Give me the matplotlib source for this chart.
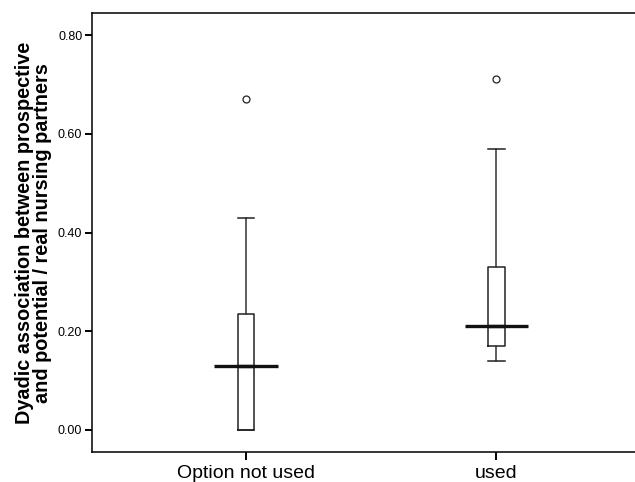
"""SPSS-style boxplot: dyadic association by option use."""

import matplotlib
matplotlib.use("Agg")
import matplotlib.pyplot as plt

plt.rcParams["font.family"] = ["Liberation Sans", "DejaVu Sans"]

# data
categories = ["Option not used", "used"]
q1         = [0.000, 0.170]
median     = [0.130, 0.210]
q3         = [0.234, 0.330]
whis_lo    = [0.000, 0.140]
whis_hi    = [0.429, 0.570]
outliers   = [[0.670], [0.711]]
yticks     = [0.0, 0.2, 0.4, 0.6, 0.8]


def main():
    fig = plt.figure(figsize=(6.35, 4.82), dpi=100)
    ax = fig.add_axes([0.145, 0.062, 0.86, 0.911])

    stats = []
    for i, name in enumerate(categories):
        stats.append(dict(label=name, med=median[i], q1=q1[i], q3=q3[i],
                          whislo=whis_lo[i], whishi=whis_hi[i], fliers=outliers[i]))

    ax.bxp(stats, positions=[0, 1], widths=0.065, showfliers=True,
           boxprops=dict(color="#222222", lw=1.1),
           whiskerprops=dict(color="#333333", lw=1.1),
           capprops=dict(color="#222222", lw=1.1),
           capwidths=0.065,
           medianprops=dict(color="#111111", lw=2.4),
           flierprops=dict(marker="o", ms=5, mfc="white", mec="#222222", mew=0.9))

    # SPSS draws the median line wider than the box
    for i in range(len(categories)):
        ax.hlines(median[i], i - 0.127, i + 0.127, color="#111111", lw=2.4, zorder=3)

    ax.set_xlim(-0.614, 1.566)
    ax.set_ylim(-0.045, 0.845)
    ax.set_yticks(yticks)
    ax.set_yticklabels([f"{t:.2f}" for t in yticks], fontsize=9)
    ax.set_xticks([0, 1])
    ax.set_xticklabels(categories, fontsize=14)
    ax.tick_params(axis="y", length=5, width=1.4, pad=2)
    ax.tick_params(axis="x", length=6, width=1.4, pad=3)
    for s in ax.spines.values():
        s.set_linewidth(1.1)
    ax.spines["right"].set_visible(False)

    ax.set_ylabel("Dyadic association between prospective\nand potential / real nursing partners",
                  fontsize=14.3, fontweight="bold", labelpad=4, linespacing=0.95)

    fig.savefig("out.png", dpi=100)


if __name__ == "__main__":
    main()
